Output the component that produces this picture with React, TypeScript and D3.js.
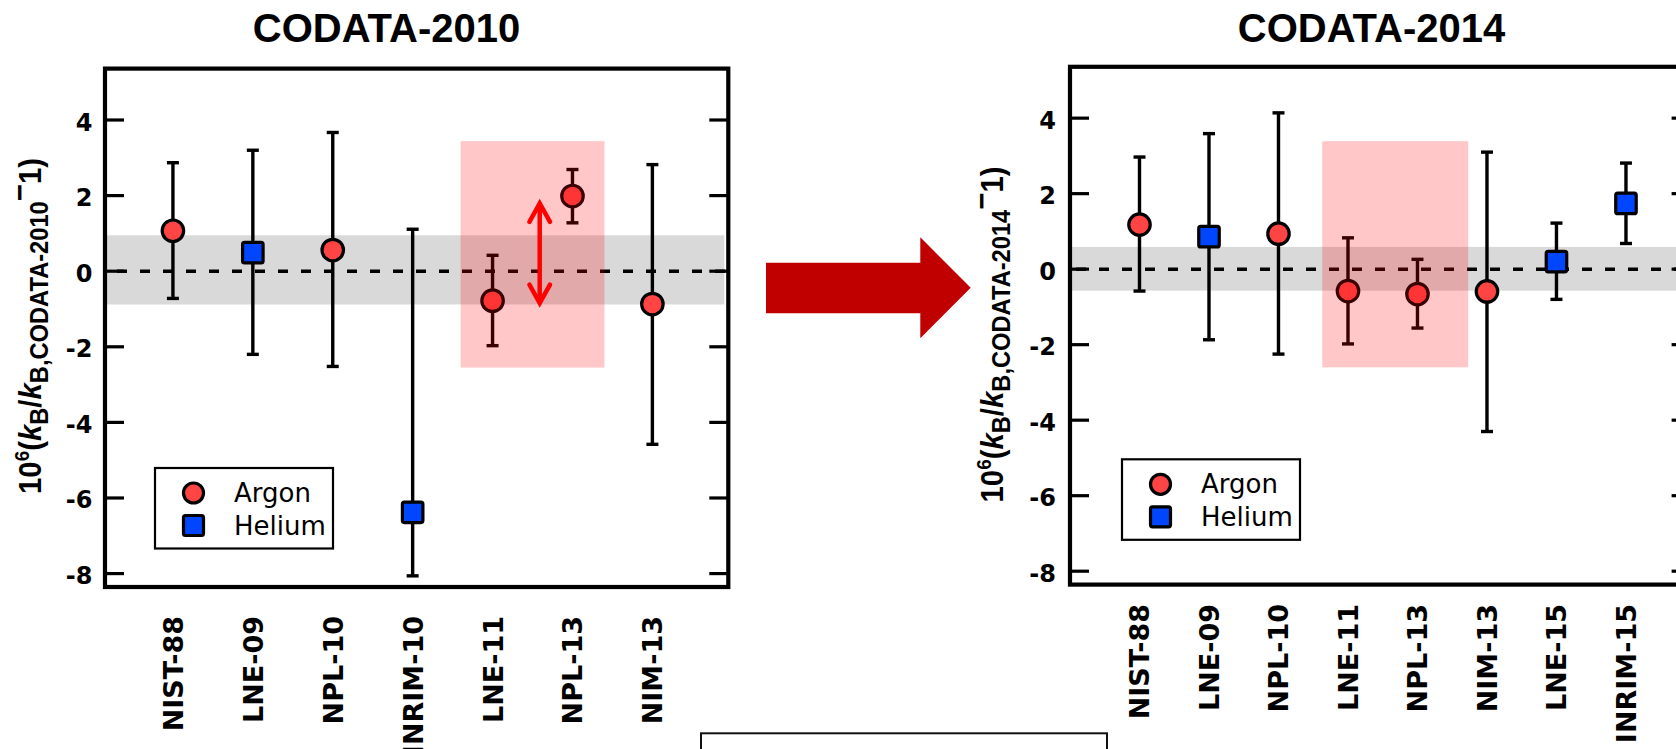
import { useRef, useEffect } from "react";
import * as d3 from "d3";

type Gas = "Argon" | "Helium";

// CODATA-2010 input data (10^6 relative deviations)
const labels2010 = ["NIST-88", "LNE-09", "NPL-10", "INRIM-10", "LNE-11", "NPL-13", "NIM-13"];
const gas2010: Gas[] = ["Argon", "Helium", "Argon", "Helium", "Argon", "Argon", "Argon"];
const values2010 = [1.07, 0.49, 0.56, -6.38, -0.78, 1.99, -0.87];
const low2010 = [-0.72, -2.2, -2.52, -8.06, -1.97, 1.28, -4.58];
const high2010 = [2.87, 3.2, 3.67, 1.11, 0.42, 2.69, 2.82];

// CODATA-2014 input data
const labels2014 = ["NIST-88", "LNE-09", "NPL-10", "LNE-11", "NPL-13", "NIM-13", "LNE-15", "INRIM-15"];
const gas2014: Gas[] = ["Argon", "Helium", "Argon", "Argon", "Argon", "Argon", "Helium", "Helium"];
const values2014 = [1.18, 0.86, 0.94, -0.58, -0.66, -0.59, 0.2, 1.74];
const low2014 = [-0.58, -1.87, -2.25, -1.98, -1.56, -4.3, -0.8, 0.68];
const high2014 = [2.97, 3.59, 4.14, 0.83, 0.26, 3.1, 1.22, 2.81];

const yTicks = [-8, -6, -4, -2, 0, 2, 4];
const band2010 = [-0.88, 0.95];
const band2014 = [-0.57, 0.59];
const highlight2010 = { x: [4.6, 6.4], y: [-2.55, 3.44] };
const highlight2014 = { x: [3.63, 5.73], y: [-2.6, 3.39] };
const shiftArrow2010 = { x: 5.59, y: [-0.87, 1.82] };

const ARGON = "#ff4444";
const HELIUM = "#0046ff";

interface Panel {
  title: string;
  subscript: string;
  labels: string[];
  gas: Gas[];
  values: number[];
  low: number[];
  high: number[];
  band: number[];
  highlight: { x: number[]; y: number[] };
  left: number;
  right: number;
  top: number;
  bottom: number;
  xDomain: [number, number];
  titleX: number;
  tickLabelX: number;
  yLabelX: number;
  yLabelY: number;
  legendX: number;
  legendY: number;
  labelTop: number;
  dashOffset: number;
}

const panels: Panel[] = [
  {
    title: "CODATA-2010",
    subscript: "B,CODATA-2010",
    labels: labels2010,
    gas: gas2010,
    values: values2010,
    low: low2010,
    high: high2010,
    band: band2010,
    highlight: highlight2010,
    left: 105,
    right: 728.3,
    top: 68.6,
    bottom: 587,
    xDomain: [0.15, 7.95],
    titleX: 386.5,
    tickLabelX: 92.5,
    yLabelX: 41,
    yLabelY: 494,
    legendX: 155,
    legendY: 468,
    labelTop: 616,
    dashOffset: 11,
  },
  {
    title: "CODATA-2014",
    subscript: "B,CODATA-2014",
    labels: labels2014,
    gas: gas2014,
    values: values2014,
    low: low2014,
    high: high2014,
    band: band2014,
    highlight: highlight2014,
    left: 1070,
    right: 1690.6,
    top: 66.8,
    bottom: 584.6,
    xDomain: [0, 8.93],
    titleX: 1371.5,
    tickLabelX: 1056,
    yLabelX: 1002.5,
    yLabelY: 502.5,
    legendX: 1122,
    legendY: 459.3,
    labelTop: 604,
    dashOffset: 17,
  },
];

function drawMarker(
  g: d3.Selection<SVGGElement, unknown, null, undefined>,
  gas: Gas,
  cx: number,
  cy: number,
  size: number
) {
  if (gas === "Argon") {
    g.append("circle")
      .attr("cx", cx)
      .attr("cy", cy)
      .attr("r", size / 2)
      .attr("fill", ARGON)
      .attr("stroke", "#000")
      .attr("stroke-width", 3.2);
  } else {
    g.append("rect")
      .attr("x", cx - size / 2)
      .attr("y", cy - size / 2)
      .attr("width", size)
      .attr("height", size)
      .attr("rx", 2)
      .attr("fill", HELIUM)
      .attr("stroke", "#000")
      .attr("stroke-width", 3.2);
  }
}

function drawPanel(svg: d3.Selection<SVGSVGElement, unknown, null, undefined>, p: Panel) {
  const g = svg.append("g");
  const x = d3.scaleLinear().domain(p.xDomain).range([p.left, p.right]);
  const y = d3.scaleLinear().domain([-8.355, 5.36]).range([p.bottom, p.top]);
  const positions = p.labels.map((_, i) => i + 1);

  // Uncertainty band of the CODATA value
  g.append("rect")
    .attr("x", p.left)
    .attr("y", y(p.band[1]))
    .attr("width", p.right - p.left - 4)
    .attr("height", y(p.band[0]) - y(p.band[1]))
    .attr("fill", "#d9d9d9");

  // Zero line
  g.append("line")
    .attr("x1", p.left)
    .attr("x2", p.right)
    .attr("y1", y(0))
    .attr("y2", y(0))
    .attr("stroke", "#000")
    .attr("stroke-width", 3.5)
    .attr("stroke-dasharray", "10,13")
    .attr("stroke-dashoffset", p.dashOffset);

  // Error bars
  positions.forEach((pos, i) => {
    const cx = x(pos);
    g.append("line")
      .attr("x1", cx)
      .attr("x2", cx)
      .attr("y1", y(p.low[i]))
      .attr("y2", y(p.high[i]))
      .attr("stroke", "#000")
      .attr("stroke-width", 3.4);
    [p.low[i], p.high[i]].forEach((v) => {
      g.append("line")
        .attr("x1", cx - 6)
        .attr("x2", cx + 6)
        .attr("y1", y(v))
        .attr("y2", y(v))
        .attr("stroke", "#000")
        .attr("stroke-width", 3.4);
    });
  });

  // Points
  positions.forEach((pos, i) => {
    drawMarker(g, p.gas[i], x(pos), y(p.values[i]), p.gas[i] === "Argon" ? 21.5 : 20.5);
  });

  // Highlight (translucent red overlay)
  g.append("rect")
    .attr("x", x(p.highlight.x[0]))
    .attr("y", y(p.highlight.y[1]))
    .attr("width", x(p.highlight.x[1]) - x(p.highlight.x[0]))
    .attr("height", y(p.highlight.y[0]) - y(p.highlight.y[1]))
    .attr("fill", "rgb(255,0,0)")
    .attr("fill-opacity", 0.22);

  // Frame
  g.append("rect")
    .attr("x", p.left)
    .attr("y", p.top)
    .attr("width", p.right - p.left)
    .attr("height", p.bottom - p.top)
    .attr("fill", "none")
    .attr("stroke", "#000")
    .attr("stroke-width", 4.2);

  // Ticks on both sides
  yTicks.forEach((t) => {
    g.append("line")
      .attr("x1", p.left)
      .attr("x2", p.left + 19)
      .attr("y1", y(t))
      .attr("y2", y(t))
      .attr("stroke", "#000")
      .attr("stroke-width", 3.2);
    g.append("line")
      .attr("x1", p.right - 19)
      .attr("x2", p.right)
      .attr("y1", y(t))
      .attr("y2", y(t))
      .attr("stroke", "#000")
      .attr("stroke-width", 3.2);
    g.append("text")
      .attr("x", p.tickLabelX)
      .attr("y", y(t) + 10.5)
      .attr("text-anchor", "end")
      .attr("font-family", "'DejaVu Sans', sans-serif")
      .attr("font-weight", "bold")
      .attr("font-size", "24px")
      .attr("fill", "#000")
      .text(t === 0 ? "0" : `${t < 0 ? "-" : ""}${Math.abs(t)}`);
  });

  // Category labels
  positions.forEach((pos, i) => {
    g.append("text")
      .attr("transform", `translate(${x(pos) + 10},${p.labelTop}) rotate(-90)`)
      .attr("text-anchor", "end")
      .attr("font-family", "'DejaVu Sans', sans-serif")
      .attr("font-weight", "bold")
      .attr("font-size", "27px")
      .attr("fill", "#000")
      .text(p.labels[i]);
  });

  // Title
  g.append("text")
    .attr("x", p.titleX)
    .attr("y", 42)
    .attr("text-anchor", "middle")
    .attr("font-family", "'Liberation Sans', Arial, sans-serif")
    .attr("font-weight", "bold")
    .attr("font-size", "40px")
    .attr("fill", "#000")
    .text(p.title);

  // Y axis label
  const yl = g
    .append("text")
    .attr("transform", `translate(${p.yLabelX},${p.yLabelY}) rotate(-90)`)
    .attr("font-family", "'Liberation Sans', Arial, sans-serif")
    .attr("font-weight", "bold")
    .attr("font-size", "31px")
    .attr("fill", "#000")
    .attr("textLength", 336)
    .attr("lengthAdjust", "spacingAndGlyphs");
  yl.append("tspan").text("10");
  yl.append("tspan").attr("dy", -12).attr("font-size", "20px").text("6");
  yl.append("tspan").attr("dy", 12).text("(");
  yl.append("tspan").attr("font-style", "italic").text("k");
  yl.append("tspan").attr("dy", 7).attr("font-size", "25px").text("B");
  yl.append("tspan").attr("dy", -7).text("/");
  yl.append("tspan").attr("font-style", "italic").text("k");
  yl.append("tspan").attr("dy", 7).attr("font-size", "25px").text(p.subscript);
  yl.append("tspan").attr("dy", -18).text("\u2212");
  yl.append("tspan").attr("dy", 11).text("1");
  yl.append("tspan").text(")");

  // Legend
  const lg = g.append("g").attr("transform", `translate(${p.legendX},${p.legendY})`);
  lg.append("rect")
    .attr("width", 178)
    .attr("height", 80.5)
    .attr("fill", "#fff")
    .attr("stroke", "#000")
    .attr("stroke-width", 2.2);
  (["Argon", "Helium"] as Gas[]).forEach((name, i) => {
    drawMarker(lg, name, 38.5, 25 + i * 32.5, 20);
    lg.append("text")
      .attr("x", 79)
      .attr("y", 33.8 + i * 33.3)
      .attr("font-family", "'DejaVu Sans', sans-serif")
      .attr("font-size", "26px")
      .attr("fill", "#000")
      .text(name);
  });

  return { x, y };
}

export default function App() {
  const svgRef = useRef<SVGSVGElement>(null);

  useEffect(() => {
    if (!svgRef.current) return;
    const svg = d3.select(svgRef.current);
    svg.selectAll("*").remove();

    svg.append("rect").attr("width", 1676).attr("height", 749).attr("fill", "#fff");

    const scales = panels.map((p) => drawPanel(svg, p));

    // Shift arrow between LNE-11 and NPL-13 (2010 panel)
    const { x, y } = scales[0];
    const ax = x(shiftArrow2010.x);
    const yTop = y(shiftArrow2010.y[1]);
    const yBot = y(shiftArrow2010.y[0]);
    const arrow = svg
      .append("g")
      .attr("stroke", "#ff0000")
      .attr("stroke-width", 4.5)
      .attr("stroke-linecap", "round")
      .attr("fill", "none");
    arrow.append("line").attr("x1", ax).attr("x2", ax).attr("y1", yTop + 2).attr("y2", yBot - 2);
    arrow
      .append("path")
      .attr("d", `M${ax - 10.3},${yTop + 19.4}L${ax},${yTop + 1}L${ax + 10.3},${yTop + 19.4}`);
    arrow
      .append("path")
      .attr("d", `M${ax - 10.3},${yBot - 19.4}L${ax},${yBot - 1}L${ax + 10.3},${yBot - 19.4}`);

    // Big arrow from 2010 to 2014
    svg
      .append("path")
      .attr("d", "M766,262.7H920.3V237.3L970.7,287.8L920.3,338.3V313.3H766Z")
      .attr("fill", "#c00000");

    // Empty box at the bottom
    svg
      .append("rect")
      .attr("x", 701)
      .attr("y", 733.3)
      .attr("width", 406)
      .attr("height", 40)
      .attr("fill", "none")
      .attr("stroke", "#111")
      .attr("stroke-width", 2);
  }, []);

  return (
    <svg
      ref={svgRef}
      width={1676}
      height={749}
      style={{ position: "absolute", left: 0, top: 0, display: "block" }}
    />
  );
}
